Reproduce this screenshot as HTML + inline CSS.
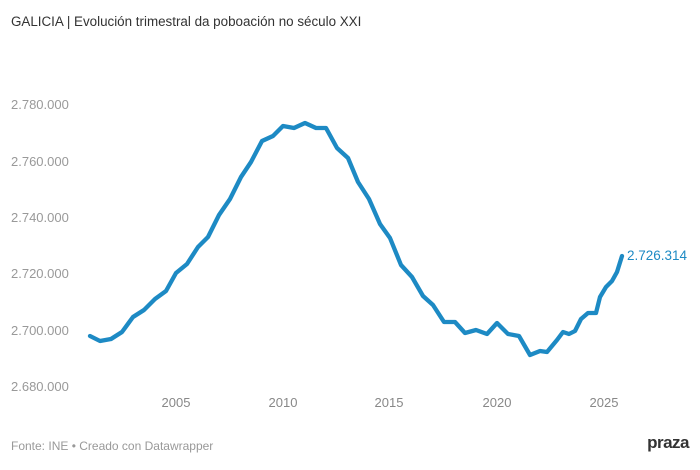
<!DOCTYPE html>
<html><head><meta charset="utf-8"><style>
body{margin:0;background:#fff;width:700px;height:465px;overflow:hidden;font-family:"Liberation Sans",sans-serif}
</style></head><body>
<svg width="700" height="465" xmlns="http://www.w3.org/2000/svg" font-family="Liberation Sans, sans-serif">
<text x="11" y="26" font-size="13.4" fill="#333">GALICIA | Evolución trimestral da poboación no século XXI</text>
<g font-size="13" fill="#999">
<text x="11" y="109">2.780.000</text>
<text x="11" y="166">2.760.000</text>
<text x="11" y="222">2.740.000</text>
<text x="11" y="278">2.720.000</text>
<text x="11" y="335">2.700.000</text>
<text x="11" y="391">2.680.000</text>
</g>
<g font-size="13" fill="#888" text-anchor="middle">
<text x="176" y="407">2005</text>
<text x="283" y="407">2010</text>
<text x="389" y="407">2015</text>
<text x="497" y="407">2020</text>
<text x="604" y="407">2025</text>
</g>
<polyline fill="none" stroke="#1d8ac4" stroke-width="4.3" stroke-linejoin="round" stroke-linecap="round" points="90,336 100,341 111,339 122,332 133,317 144,310 155,299 166,291 176,273 187,264 198,247 208,237 219,215 230,199 241,177 251,162 262,141 273,136 283,126 294,128 305,123 316,128 326,128 337,148 348,158 358,182 369,199 380,224 390,238 401,265 412,277 423,296 433,305 444,322 455,322 465,333 476,330 487,334 497,323 508,334 519,336 530,355 540,351 547,352 557,340 563,332 569,334 575,331 581,319 588,313 596,313 600,297 606,287 612,281 617,272 622,256"/>
<text x="627" y="260" font-size="13.5" fill="#1d8ac4">2.726.314</text>
<text x="11" y="450" font-size="12" fill="#999">Fonte: INE • Creado con Datawrapper</text>
<text x="689" y="448" font-size="17" font-weight="bold" fill="#333" text-anchor="end" letter-spacing="-0.5">praza</text>
</svg>
</body></html>
